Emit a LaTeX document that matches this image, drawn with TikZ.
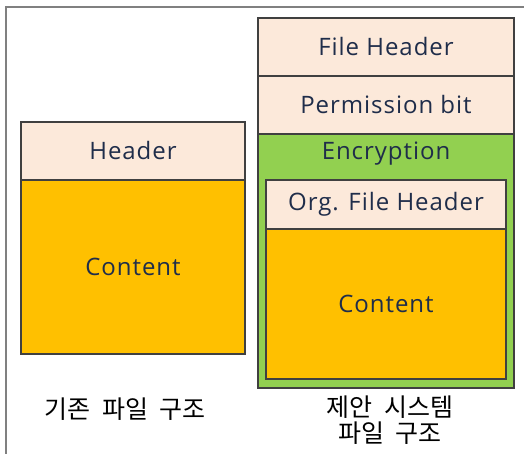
\documentclass[tikz,border=0pt]{standalone}
\usepackage{fontspec}
\setmainfont[LetterSpace=4]{Open Sans}
\newfontfamily\kofont[WordSpace=2]{Noto Sans CJK KR}
\usetikzlibrary{positioning}
\definecolor{hdr}{HTML}{FCE9DA}
\definecolor{cnt}{HTML}{FFC000}
\definecolor{encf}{HTML}{92D050}
\definecolor{txt}{HTML}{1F2D4A}
\definecolor{edge}{HTML}{404040}

\begin{document}
\begin{tikzpicture}[x=1pt, y=-1pt,
  part/.style    = {rectangle, draw=edge, line width=1.2pt, inner sep=0pt,
                    outer sep=0pt, font=\fontsize{24}{28}\selectfont, text=txt},
  hdrbox/.style  = {part, fill=hdr},
  cntbox/.style  = {part, fill=cnt},
  lbl/.style     = {font=\fontsize{24}{28}\selectfont, text=txt},
  caption/.style = {font=\kofont\fontsize{25}{26}\selectfont, align=center},
  node distance = 0pt,
]
  \useasboundingbox (0,0) rectangle (524,454);
  \draw[line width=2pt, gray] (6,454) -- (6,7) -- (524,7);

  % existing file structure
  \node[hdrbox, minimum width=224pt, minimum height=58pt, anchor=north west]
    (hd) at (21,122) {Header};
  \node[cntbox, minimum width=224pt, minimum height=174pt, below=of hd]
    (ct) {Content};

  % proposed system file structure
  \node[hdrbox, minimum width=256pt, minimum height=58pt, anchor=north west]
    (fh) at (258,18) {File Header};
  \node[hdrbox, minimum width=256pt, minimum height=58pt, below=of fh]
    (pb) {Permission bit};
  \node[part, fill=encf, minimum width=256pt, minimum height=254pt, below=of pb]
    (enc) {};
  \node[lbl] (enclbl) at (386,154) {Encryption};
  \node[hdrbox, minimum width=240pt, minimum height=49pt, anchor=north west]
    (ofh) at (266,180) {Org. File Header};
  \node[cntbox, minimum width=240pt, minimum height=150pt, below=of ofh]
    (oct) {Content};

  \node[caption] (cap1) at (125,409) {기존 파일 구조};
  \node[caption] (cap2) at (390,420) {제안 시스템\\파일 구조};
\end{tikzpicture}
\end{document}
